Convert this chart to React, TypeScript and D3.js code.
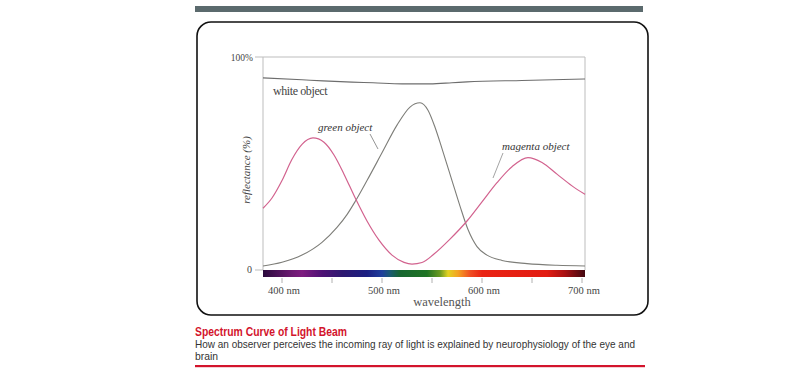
import React from "react";
import * as d3 from "d3";

const wavelengthDomain = [381, 703];
const tickWavelengths = [400, 450, 500, 550, 600, 650, 700];
const tickLabels = ["400 nm", "500 nm", "600 nm", "700 nm"];
const labelWavelengths = [400, 500, 600, 700];

const whiteObject: [number, number][] = [
  [381, 90.2], [420, 89.3], [441, 88.8], [470, 88.2], [491, 87.9], [520, 87.4],
  [548, 87.4], [570, 87.9], [585, 88.3], [640, 89.0], [703, 89.7],
];
const greenObject: [number, number][] = [
  [381, 1.9], [400, 3.6], [420, 7], [440, 13], [455, 20], [465, 26], [473, 32],
  [485, 42], [500, 55], [515, 68], [528, 76.5], [538, 78.5], [546, 75],
  [553, 67], [560, 57], [570, 42], [578, 30], [586, 19], [595, 11], [605, 7],
  [620, 4.5], [645, 3], [675, 2.2], [703, 1.9],
];
const magentaObject: [number, number][] = [
  [381, 29], [390, 33.8], [400, 42], [410, 52], [420, 59], [431, 62], [442, 60],
  [452, 54], [462, 45], [473, 34], [485, 23], [497, 14], [510, 7], [522, 3.6],
  [530, 2.8], [540, 3.5], [552, 7.5], [568, 14.5], [585, 23], [600, 32],
  [615, 41], [630, 48.5], [646, 52.8], [660, 50.5], [675, 45], [690, 39.5],
  [703, 35.5],
];
const spectrumStops: [number, string][] = [
  [381, "#2a0a3c"], [395, "#4a1257"], [410, "#6c1a72"], [420, "#7e1c80"],
  [440, "#4e1275"], [460, "#2e1870"], [485, "#1c1f82"], [500, "#1f3f9c"],
  [508, "#1a5a72"], [518, "#176630"], [545, "#1f7424"], [558, "#6a9a20"],
  [566, "#e2d222"], [576, "#f4a222"], [588, "#f05024"], [600, "#ea2414"],
  [665, "#e21c12"], [683, "#a81012"], [703, "#420810"],
];
const titleText = "Spectrum Curve of Light Beam";
const captionLines = [
  "How an observer perceives the incoming ray of light is explained by neurophysiology of the eye and",
  "brain",
];

const W = 799;
const H = 380;
const serif = "'Liberation Serif', 'DejaVu Serif', serif";
const sans = "'Liberation Sans', Arial, sans-serif";

export default function App() {
  const x = d3.scaleLinear().domain(wavelengthDomain).range([263, 585]);
  const y = d3.scaleLinear().domain([0, 100]).range([270, 57]);
  const line = d3
    .line<[number, number]>()
    .x((d) => x(d[0]))
    .y((d) => y(d[1]))
    .curve(d3.curveMonotoneX);

  const [x0, x1] = x.range();
  return (
    <div style={{ position: "absolute", left: 0, top: 0 }}>
      <svg width={W} height={H} style={{ display: "block", background: "#fff" }}>
        <defs>
          <linearGradient id="spec" x1="0" x2="1" y1="0" y2="0">
            {spectrumStops.map(([w, c], i) => (
              <stop key={i} offset={(x(w) - x0) / (x1 - x0)} stopColor={c} />
            ))}
          </linearGradient>
        </defs>
        {/* top bar */}
        <rect x={195} y={6} width={448} height={6} fill="#5b6a6d" />
        {/* rounded frame */}
        <rect x={197} y={22} width={451} height={293} rx={14} ry={14} fill="#fff" stroke="#111" strokeWidth={1.6} />

        {/* plot frame */}
        <g stroke="#bdbdbd" strokeWidth={1} fill="none">
          <line x1={x0} x2={x0} y1={y(100)} y2={y(0)} />
          <line x1={x1} x2={x1} y1={y(100)} y2={y(0)} />
          <line x1={x0} x2={x1} y1={y(100)} y2={y(100)} />
          <line x1={255} x2={x0} y1={y(100)} y2={y(100)} />
          <line x1={255} x2={x0} y1={y(0)} y2={y(0)} />
        </g>

        {/* spectrum bar */}
        <rect x={x0} y={y(0)} width={x1 - x0} height={7} fill="url(#spec)" />
        {tickWavelengths.map((w) => (
          <line key={w} x1={x(w)} x2={x(w)} y1={278} y2={283} stroke="#b0b0b0" strokeWidth={1} />
        ))}
        {labelWavelengths.map((w, i) => (
          <text key={w} x={x(w) + 2} y={294} textAnchor="middle" fontFamily={serif} fontSize={10.5} fill="#444">
            {tickLabels[i]}
          </text>
        ))}
        <text x={442} y={306} textAnchor="middle" fontFamily={serif} fontSize={12.5} fill="#555">wavelength</text>

        {/* y labels */}
        <text x={253} y={61} textAnchor="end" fontFamily={serif} fontSize={9.5} fill="#444">100%</text>
        <text x={252} y={273} textAnchor="end" fontFamily={serif} fontSize={10} fill="#444">0</text>
        <text
          transform={`translate(250,170) rotate(-90)`}
          textAnchor="middle"
          fontFamily={serif}
          fontStyle="italic"
          fontSize={11}
          fill="#444"
        >
          reflectance (%)
        </text>

        {/* curves */}
        <path d={line(whiteObject) || ""} fill="none" stroke="#6d6d6d" strokeWidth={1.1} />
        <path d={line(greenObject) || ""} fill="none" stroke="#7d7d78" strokeWidth={1.1} />
        <path d={line(magentaObject) || ""} fill="none" stroke="#d2628e" strokeWidth={1.2} />

        {/* annotations */}
        <text x={273} y={95} fontFamily={serif} fontSize={12} fill="#444" letterSpacing={-0.4}>white object</text>
        <text x={318} y={131} fontFamily={serif} fontStyle="italic" fontSize={11} fill="#333">green object</text>
        <line x1={370} y1={134} x2={378} y2={149} stroke="#888" strokeWidth={0.9} />
        <text x={502} y={150} fontFamily={serif} fontStyle="italic" fontSize={11} fill="#333">magenta object</text>
        <line x1={503} y1={153} x2={493} y2={178} stroke="#999" strokeWidth={0.9} />

        {/* caption */}
        <text x={195} y={335.5} fontFamily={sans} fontWeight={700} fontSize={12.5}
          fill="#d3142c" textLength={152} lengthAdjust="spacingAndGlyphs">
          {titleText}
        </text>
        <text x={195} y={347.5} fontFamily={sans} fontSize={10.8}
          fill="#333" textLength={440} lengthAdjust="spacingAndGlyphs">
          {captionLines[0]}
        </text>
        <text x={195} y={359.5} fontFamily={sans} fontSize={10.8}
          fill="#333" textLength={23} lengthAdjust="spacingAndGlyphs">
          {captionLines[1]}
        </text>
        <rect x={195} y={365} width={450} height={2.2} fill="#d3142c" />
      </svg>
    </div>
  );
}
